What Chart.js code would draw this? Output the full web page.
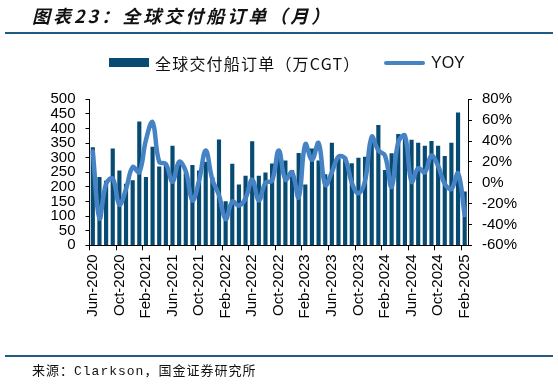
<!DOCTYPE html>
<html><head><meta charset="utf-8">
<script src="https://cdn.jsdelivr.net/npm/chart.js@4.4.1/dist/chart.umd.min.js"></script>
<style>
html,body{margin:0;padding:0;background:#fff;}
#wrap{position:relative;width:558px;height:384px;overflow:hidden;background:#fff;}
canvas{position:absolute;left:0;top:0;}
.abs{position:absolute;white-space:nowrap;}
#title{left:32px;top:2px;font:italic bold 18px 'Noto Sans CJK SC';letter-spacing:3px;color:#111;line-height:26px;}
#rule1{left:5px;top:32px;width:548px;height:2px;background:#1F5C84;}
#rule2{left:5px;top:355px;width:548px;height:2px;background:#1F5C84;}
#foot{left:32px;top:363px;font:13px 'Liberation Mono','Noto Sans CJK SC';letter-spacing:1px;color:#111;line-height:18px;}
#lgBar{left:109px;top:58px;width:40px;height:9px;background:#074B73;}
#lgBarTxt{left:155px;top:52px;font:16px 'Noto Sans CJK SC';letter-spacing:1.2px;color:#111;line-height:22px;}
#lgLine{left:384px;top:60.5px;width:41px;height:4.5px;border-radius:2px;background:#4683C4;}
#lgLineTxt{left:431px;top:52px;font:16px 'Liberation Sans';color:#111;line-height:22px;}
</style></head><body>
<div id="wrap">
<canvas id="c" width="558" height="384"></canvas>
<div class="abs" id="title">图表23：全球交付船订单（月）</div>
<div class="abs" id="rule1"></div>
<div class="abs" id="lgBar"></div>
<div class="abs" id="lgBarTxt">全球交付船订单（万CGT）</div>
<div class="abs" id="lgLine"></div>
<div class="abs" id="lgLineTxt">YOY</div>
<div class="abs" id="rule2"></div>
<div class="abs" id="foot">来源：Clarkson，国金证券研究所</div>
</div>
<script>
const categories = [
  'Jun-2020','Jul-2020','Aug-2020','Sep-2020','Oct-2020','Nov-2020','Dec-2020',
  'Jan-2021','Feb-2021','Mar-2021','Apr-2021','May-2021','Jun-2021','Jul-2021','Aug-2021','Sep-2021','Oct-2021','Nov-2021','Dec-2021',
  'Jan-2022','Feb-2022','Mar-2022','Apr-2022','May-2022','Jun-2022','Jul-2022','Aug-2022','Sep-2022','Oct-2022','Nov-2022','Dec-2022',
  'Jan-2023','Feb-2023','Mar-2023','Apr-2023','May-2023','Jun-2023','Jul-2023','Aug-2023','Sep-2023','Oct-2023','Nov-2023','Dec-2023',
  'Jan-2024','Feb-2024','Mar-2024','Apr-2024','May-2024','Jun-2024','Jul-2024','Aug-2024','Sep-2024','Oct-2024','Nov-2024','Dec-2024',
  'Jan-2025','Feb-2025'
];
const xTickLabels = ['Jun-2020','Oct-2020','Feb-2021','Jun-2021','Oct-2021','Feb-2022','Jun-2022','Oct-2022','Feb-2023','Jun-2023','Oct-2023','Feb-2024','Jun-2024','Oct-2024','Feb-2025'];
const orders = [
  335,233,220,330,255,210,222,
  423,233,336,269,278,340,280,248,274,255,285,232,
  361,150,278,207,237,355,237,248,279,325,289,257,
  315,207,330,289,242,350,296,302,280,299,302,370,
  411,257,314,380,365,360,350,340,356,340,305,350,
  454,183
];
const yoy = [
  30,-34,-1,4,-21,-6,15,
  10,41,58,20,18,1,20,11,-17,2,31,3,
  -12,-35,-18,-22,-15,3,-17,0,2,31,3,10,
  -14,37,22,38,-2,10,25,23,0,-10,2,44,
  31,26,-4,39,45,1,14,10,26,16,-1,-6,
  9,-31
];
const leftAxis = {min:0, max:500, step:50};
const rightAxis = {min:-60, max:80, step:20};
const seriesNames = ['全球交付船订单（万CGT）','YOY'];

const tickFont = {family:"'Liberation Sans', Arial", size:15};
new Chart(document.getElementById('c'), {
  type:'bar',
  data:{
    labels:categories,
    datasets:[
      {type:'line', label:seriesNames[1], data:yoy, yAxisID:'y1', order:0,
       borderColor:'#4683C4', borderWidth:4.5, pointRadius:0, tension:0.4, fill:false,
       borderCapStyle:'round', borderJoinStyle:'round'},
      {type:'bar', label:seriesNames[0], data:orders, yAxisID:'y', order:1,
       backgroundColor:'#074B73', barThickness:3.5}
    ]
  },
  options:{
    responsive:false, maintainAspectRatio:false, animation:false,
    layout:{padding:{top:99.3,left:0,right:0,bottom:0}},
    plugins:{legend:{display:false}, tooltip:{enabled:false}},
    scales:{
      x:{type:'category', offset:true,
        grid:{offset:true, drawOnChartArea:false, drawTicks:true, tickLength:5,
          color:(ctx)=> (ctx.index!==undefined && ctx.index%4===0) ? '#000' : 'rgba(0,0,0,0)'},
        border:{display:true,color:'#000',width:1},
        ticks:{autoSkip:false, maxRotation:90, minRotation:90, padding:4, font:tickFont, color:'#000',
          callback:(v,i)=> xTickLabels.includes(categories[i]) ? categories[i] : ''},
        afterFit:(s)=>{s.height = 384-245.3;}
      },
      y:{position:'left', min:leftAxis.min, max:leftAxis.max,
        ticks:{stepSize:leftAxis.step, autoSkip:false, padding:10, font:tickFont, color:'#000'},
        grid:{drawOnChartArea:false, tickLength:4, color:'#000'},
        border:{display:true,color:'#000',width:1},
        afterFit:(s)=>{s.width = 89.5;}
      },
      y1:{position:'right', min:rightAxis.min, max:rightAxis.max,
        ticks:{stepSize:rightAxis.step, autoSkip:false, padding:10, font:tickFont, color:'#000', callback:(v)=> v+'%'},
        grid:{drawOnChartArea:false, tickLength:4, color:'#000'},
        border:{display:true,color:'#000',width:1},
        afterFit:(s)=>{s.width = 558-468;}
      }
    }
  }
});
</script>
</body></html>
